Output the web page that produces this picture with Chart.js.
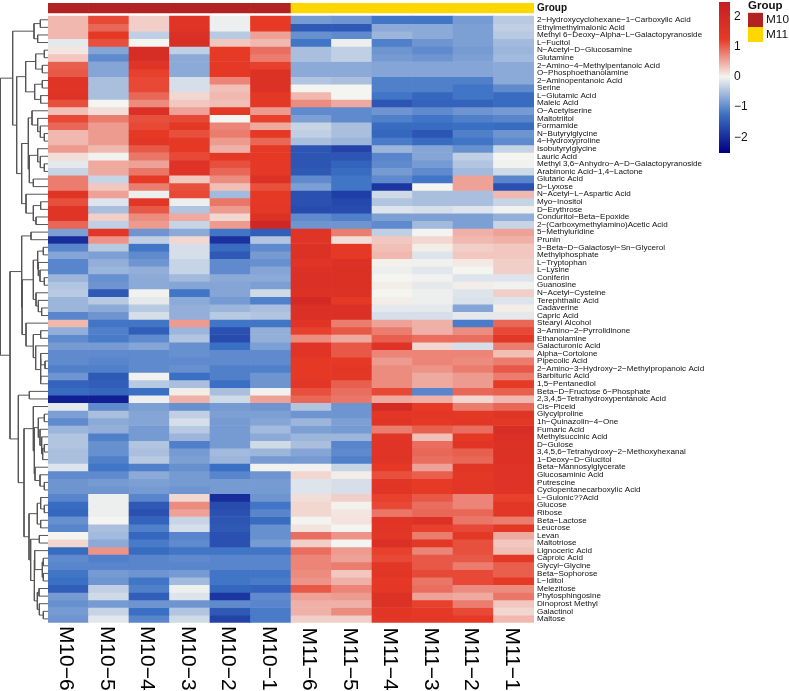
<!DOCTYPE html>
<html>
<head>
<meta charset="utf-8">
<title>Heatmap M10 vs M11</title>
<script src="https://cdn.jsdelivr.net/npm/chart.js@4"></script>
<style>
  html, body { margin: 0; padding: 0; background: #fff; overflow: hidden; }
  #wrap { position: relative; width: 789px; height: 691px; }
  canvas { position: absolute; display: block; }
</style>
</head>
<body>
<div id="wrap">
  <canvas id="dendro" width="48" height="691" style="left:0;top:0"></canvas>
  <canvas id="heat" width="670" height="691" style="left:48px;top:0"></canvas>
  <canvas id="scale" width="29" height="151" style="left:719px;top:2px"></canvas>
  <canvas id="legend" width="41" height="45" style="left:748px;top:0"></canvas>
</div>
<script>
const FONT = '"Liberation Sans", Arial, sans-serif';

// columnas
const samples = ['M10−6','M10−5','M10−4','M10−3','M10−2','M10−1','M11−6','M11−5','M11−4','M11−3','M11−2','M11−1'];
const sampleGroups = ['M10','M10','M10','M10','M10','M10','M11','M11','M11','M11','M11','M11'];
const groupNames = ['M10','M11'];
const groupColors = ['#b22222','#ffd700'];
const scaleTicks = [2, 1, 0, -1, -2];

const metabolites = [
  '2−Hydroxycyclohexane−1−Carboxylic Acid','Ethylmethylmalonic Acid','Methyl 6−Deoxy−Alpha−L−Galactopyranoside','L−Fucitol',
  'N−Acetyl−D−Glucosamine','Glutamine','2−Amino−4−Methylpentanoic Acid','O−Phosphoethanolamine','2−Aminopentanoic Acid','Serine',
  'L−Glutamic Acid','Maleic Acid','O−Acetylserine','Maltotriitol','Formamide','N−Butyrylglycine','4−Hydroxyproline','Isobutyrylglycine',
  'Lauric Acid','Methyl 3,6−Anhydro−A−D−Galactopyranoside','Arabinonic Acid−1,4−Lactone','Glutaric Acid','D−Lyxose',
  'N−Acetyl−L−Aspartic Acid','Myo−Inositol','D−Erythrose','Conduritol−Beta−Epoxide','2−(Carboxymethylamino)Acetic Acid',
  '5−Methyluridine','Prunin','3−Beta−D−Galactosyl−Sn−Glycerol','Methylphosphate','L−Tryptophan','L−Lysine','Coniferin','Guanosine',
  'N−Acetyl−Cysteine','Terephthalic Acid','Cadaverine','Capric Acid','Stearyl Alcohol','3−Amino−2−Pyrrolidinone','Ethanolamine',
  'Galacturonic Acid','Alpha−Cortolone','Pipecolic Acid','2−Amino−3−Hydroxy−2−Methylpropanoic Acid','Barbituric Acid','1,5−Pentanediol',
  'Beta−D−Fructose 6−Phosphate','2,3,4,5−Tetrahydroxypentanoic Acid','Cis−Piceid','Glycylproline','1h−Quinazolin−4−One','Fumaric Acid',
  'Methylsuccinic Acid','D−Gulose','3,4,5,6−Tetrahydroxy−2−Methoxyhexanal','1−Deoxy−D−Glucitol','Beta−Mannosylglycerate',
  'Glucosaminic Acid','Putrescine','Cyclopentanecarboxylic Acid','L−Gulonic??Acid','Glucose','Ribose','Beta−Lactose','Leucrose','Levan',
  'Maltotriose','Lignoceric Acid','Caproic Acid','Glycyl−Glycine','Beta−Sophorose','L−Iditol','Melezitose','Phytosphingosine',
  'Dinoprost Methyl','Galactinol','Maltose'
];

// z-scores, una fila por metabolito
const zScores = [
  [.4,1.15,.25,1.5,-.05,1.25,-.85,-.9,-1.2,-1.2,-.85,-.4],
  [.4,.95,.25,1.5,-.05,1.25,-1.5,-1.5,-.7,-.7,-.8,-.35],
  [.4,1.3,-.35,1.7,-.4,.55,-.95,-1,-.6,-.7,-.8,-.4],
  [-.1,1.1,0,1.75,.3,.4,-1.2,-.05,-1.1,-.9,-.8,-.55],
  [.1,-.75,1.85,-.35,1.25,.9,-.5,-.35,-.9,-1,-.85,-.6],
  [.3,-1,1.85,-.7,1.25,.8,-.5,-.35,-.85,-.9,-.8,-.55],
  [1,-.75,1.5,-.7,1.3,1.2,-.7,-.7,-.75,-.75,-.75,-.7],
  [1.05,-.75,1.2,-.7,1.3,1.6,-.7,-.7,-.75,-.75,-.75,-.7],
  [1.5,-.5,1.15,-.2,.75,1.6,-.45,-.5,-1.1,-1.1,-1.1,-.7],
  [1.5,-.5,1.15,-.2,.35,1.6,0,0,-1.1,-1.1,-1.2,-1],
  [1.55,-.5,.95,.2,.4,1.35,.4,0,-1.2,-1.35,-1.2,-1.3],
  [1.1,0,.7,.3,.35,1.35,.7,.5,-1.55,-1.4,-1.4,-1.3],
  [.35,.15,1.7,.55,1.35,.6,-1,-1,-.9,-1,-.9,-.85],
  [1.15,.8,1.1,1.15,0,1.2,-.8,-1,-1.1,-1.2,-1.1,-1.05],
  [.95,.6,1.15,1.35,.75,.5,-.3,-.5,-1.3,-1.3,-1.25,-1.3],
  [.4,.6,1.3,1.1,.8,1.3,-.35,-.5,-1.35,-1.55,-1.1,-.9],
  [.4,.6,1.4,1.3,.6,.95,-.5,-.6,-1.15,-1.3,-1.2,-1],
  [.6,.4,1.05,1.3,.45,1.3,-1.55,-1.75,-.6,-.75,-.95,-.3],
  [.15,-.02,.85,1.15,1.35,1.3,-1.55,-1.55,-1.05,-.75,-.35,0],
  [-.1,.5,.55,1.55,1.1,1.3,-1.55,-1.4,-1,-.85,-.45,-.02],
  [-.3,.5,.85,1.55,.95,1.3,-1.5,-1.3,-.85,-1,-.55,-.25],
  [.8,-.3,1.25,.3,.7,1.6,-1,-1.2,-1,-1.2,.55,-1.05],
  [.8,.3,.8,1.1,.35,1.1,-.8,-1.2,-1.9,0,.55,-1.6],
  [1.5,.55,-.05,1.15,-.55,1.3,-1.6,-1.8,-.25,-.5,-.5,.4],
  [1.1,-.15,1.4,-.05,.85,1.3,-1.6,-1.7,-.45,-.5,-.5,-.3],
  [1.5,-.5,1.05,-.45,.6,1.35,-1.65,-1.65,-.15,-.2,-.15,-.02],
  [1.5,.25,.7,.5,.2,1.6,-1,-1.1,-.8,-.8,-.8,-.65],
  [.95,-.35,.6,-.3,.6,2.1,-.9,-.9,-1,-.55,-.8,-.3],
  [-.8,1.4,-.9,-.7,-1.2,-1.45,1.5,.8,-.35,-.01,.45,.55],
  [-2,.65,-.35,.2,-1.95,-.45,1.5,.15,.3,.2,.4,.45],
  [-1.05,-.4,-1.2,-.2,-1.3,-1,1.6,1.3,.35,.05,.25,.3],
  [-.75,-.8,-1,-.2,-1.5,-.85,1.6,1.3,.4,-.15,.3,.3],
  [-1.05,-.65,-.9,-.3,-1,-.95,1.5,1.6,.02,-.03,.08,.25],
  [-1.05,-.6,-.65,-.3,-1,-.75,1.6,1.65,-.05,-.12,0,.25],
  [-.6,-.95,-.7,-.55,-.7,-.7,1.7,1.65,0,-.02,-.15,-.15],
  [-.45,-.9,-.7,-.75,-.75,-.8,1.7,1.65,.05,-.1,.05,-.02],
  [-.4,-1.5,-.02,-1.2,-.75,-.25,1.6,1.6,0,-.05,-.15,.25],
  [-.6,-.4,-.1,-.7,-.85,-1.1,1.95,1.3,.05,-.05,-.18,-.15],
  [-.6,-.7,-.4,-.65,-.6,-.5,1.7,1.7,-.1,-.1,-.75,.05],
  [-1.05,-.9,-.2,-.65,-.4,-.45,1.7,1.7,-.2,-.2,-.1,-.1],
  [.4,-1.2,-1.2,.6,-1.2,-1.2,1.5,.8,.55,.45,-1.15,.95],
  [-.65,-1.1,-1.45,-.6,-1.6,-.65,1.2,1.05,.8,.45,.7,1.15],
  [-1,-1.15,-1,-.45,-1.65,-.65,.7,.5,1,.9,.9,1.4],
  [-.85,-.85,-.75,-.95,-1.25,-.8,1.5,1.05,1.55,.2,-.2,.8],
  [-1,-1,-1,-.95,-1,-1,1.5,1.05,.75,.75,.75,.35],
  [-1,-1.05,-1,-1,-1,-1,1.3,1.3,.6,.75,.7,.8],
  [-1.1,-1.1,-1,-.95,-1.1,-1.1,1.3,1.4,.7,.65,.8,1.05],
  [-.9,-1.5,-.02,-1.25,-1.1,-.9,1.3,1.35,.7,.5,.6,.8],
  [-1.4,-1.45,-.4,-.5,-1.25,-.9,1.4,1,.7,.5,.6,1.25],
  [-1.3,-1.35,-1.25,.05,-.5,-.02,1.1,.9,1.15,-1.05,.95,1],
  [-2.15,-2.15,-.04,.45,-.25,.55,.95,.85,.5,.45,.2,.4],
  [-.1,-1,-.8,-.95,-.85,-.9,-.45,-.9,1.9,1.25,.8,.95],
  [-.8,-.5,-.75,-.35,-.8,-.8,-.9,-.9,1.4,1.4,1.35,1.5],
  [-1,-.7,-.75,-.2,-.85,-.75,-.6,-.8,1.5,1.3,1.4,1.35],
  [-.6,-.65,-.85,-.4,-.85,-.55,-.8,-.85,.8,1,.9,1.8],
  [-.45,-1.1,-.85,-.6,-.85,-.7,-.6,-.6,1.45,.35,1.3,1.7],
  [-.45,-.95,-.45,-1.1,-.85,-.25,-.5,-1.05,1.5,.9,1.5,1.6],
  [-.5,-.95,-.5,-.85,-.55,-.6,-.75,-1,1.5,.95,1,1.6],
  [-.5,-1.1,-.4,-.8,-.6,-.85,-.85,-1.1,1.5,.9,.95,1.6],
  [-.15,-1.2,-1.1,-.95,-1.25,-.02,-.02,-.3,1.3,.55,1.45,1.55],
  [-1,-1,-.7,-.85,-1.05,-.9,.2,.05,1.1,1,1.35,1.55],
  [-.9,-.85,-.8,-.85,-.85,-.85,-.15,-.2,1.45,1.25,1.4,1.55],
  [-.9,-.9,-.85,-.9,-.85,-.85,-.15,-.2,1.5,1.25,1.4,1.55],
  [-1.05,-.05,-1.05,.2,-2,-.9,.15,.25,1.2,1.05,.75,1.2],
  [-1.3,-.05,-1.5,.7,-1.65,-1.2,.2,.02,1.15,.9,.75,1.4],
  [-1.35,-.05,-1.6,.55,-1.6,-1.05,.2,.1,.85,.95,.95,1.4],
  [-.95,0,-1.4,-.3,-1.55,-1.3,-.01,.12,1.5,1.6,.85,.8],
  [-1.05,-.5,-1.1,-.2,-1.5,-.95,.12,0,1.45,1.2,1.15,1.35],
  [0,-.55,-1.35,-1.05,-1.6,-.95,.9,.65,1.4,.8,1.35,.5],
  [.2,-.7,-1.15,-1,-1.6,-.85,.25,0,1.7,1.35,1.1,.3],
  [-1.3,.65,-1.3,-1.2,-1.2,-1.2,.9,.6,1.2,.75,1.1,.35],
  [-1,-1.1,-1.05,-1,-1.05,-1.05,.75,.55,1.15,1.05,1.05,1.35],
  [-1.05,-1.05,-1.05,-1.05,-1.05,-1.05,.75,.8,1.4,1.05,.8,1],
  [-1.2,-.85,-.9,-.85,-1.2,-1.2,.7,.3,1.45,1.15,1.15,1],
  [-1.25,-.9,-1.2,-.55,-1.2,-1.15,.65,.45,1.3,.85,1.15,1.3],
  [-1.45,-.35,-1.1,-.05,-1.35,-1.4,1.05,.75,1.35,.9,.7,.7],
  [-.85,-.25,-1.45,-.15,-1.9,-1,.55,.6,1.6,.55,.5,.85],
  [-.95,-.85,-.9,-.9,-1,-1.05,.45,.45,1.6,1.2,.8,.3],
  [-.85,-.3,-1.25,-.45,-1.5,-1.15,.45,.7,1.45,1.3,1.15,.2],
  [-.9,-.12,-1.05,-.25,-1.75,-1.15,.25,.25,1.4,1.35,1.3,.4]
];

// arbol de filas: [altura, hijo, hijo], una hoja es el numero de fila
const clusterTop = [106,
  [42, [23,0,1], [31,2,3]],
  [94,
    [67, [37,[11,4,5],[17,6,7]], [40,[17,8,9],[22,10,11]]],
    [79,
      [59, [48,12,[31,13,[23,14,[11,15,16]]]], [56,[31,17,[23,18,[11,19,20]]],[44,21,22]]],
      [66,23,[44,[22,24,25],[36,26,27]]]
    ]
  ]
];
const clusterBlueA = [79, [51,28,29], [77.5,
  [44, [31,[14,30,31],[29,32,[24,33,[11,34,35]]]], [36,36,[29,37,[19,38,39]]]],
  [66,40,[44,[22,41,42],[37,43,[22,[22,44,[9,45,46]],[22,47,48]]]]]
]];
const clusterBlueB = [89, [56,49,50], [72,
  [44,51,[41,[29,[11,52,53],[24,54,[19,55,[16,[11,56,57],58]]]],[39,59,[24,60,[11,61,62]]]]],
  [57,
    [32,[22,63,[11,64,65]],[22,66,67]],
    [52,[26,68,69],[41,[40,70,[17,[14,71,72],[14,73,74]]],[32,[27,75,76],[26,77,[14,78,79]]]]]
  ]
]];
const rowTree = [143, clusterTop, [114, clusterBlueA, clusterBlueB]];

// escala de color
const colorStops = [
  [-2.5, [0, 0, 128]], [-1.25, [58, 112, 196]], [0, [244, 244, 240]], [1.25, [230, 58, 38]], [2.5, [196, 30, 36]]
];

function zColor(v) {
  let i = 0;
  while (i < colorStops.length - 2 && v > colorStops[i + 1][0]) i++;
  const [v0, c0] = colorStops[i];
  const [v1, c1] = colorStops[i + 1];
  const t = Math.min(1, Math.max(0, (v - v0) / (v1 - v0)));
  const c = c0.map((x, k) => Math.round(x + (c1[k] - x) * t));
  return `rgb(${c[0]},${c[1]},${c[2]})`;
}

// las etiquetas no deben empujar el area del grafico
function noMargins(s) {
  s.paddingLeft = 0;
  s.paddingRight = 0;
  s.paddingTop = 0;
  s.paddingBottom = 0;
}

// mismo eje vertical en dendrograma y heatmap
const ROW_MIN = -1.714;
const ROW_MAX = 80;
const AXIS_BOTTOM = 68.33;

// --- dendrograma ---
const brackets = [];
function walkTree(node) {
  if (typeof node === 'number') return { h: 0, y: node + 0.5 };
  const a = walkTree(node[1]);
  const b = walkTree(node[2]);
  brackets.push([{ x: a.h, y: a.y }, { x: node[0], y: a.y }, { x: node[0], y: b.y }, { x: b.h, y: b.y }]);
  return { h: node[0], y: (a.y + b.y) / 2 };
}
walkTree(rowTree);

new Chart(document.getElementById('dendro'), {
  type: 'scatter',
  data: {
    datasets: brackets.map(pts => ({
      data: pts, showLine: true, pointRadius: 0, borderColor: '#555', borderWidth: 1, clip: false
    }))
  },
  options: {
    responsive: false,
    animation: false,
    layout: { padding: { top: 3, bottom: AXIS_BOTTOM, left: 0, right: 0 } },
    plugins: { legend: { display: false }, tooltip: { enabled: false } },
    scales: {
      x: { display: false, reverse: true, min: 0, max: 144 },
      y: { display: false, reverse: true, min: ROW_MIN, max: ROW_MAX }
    }
  }
});

// --- heatmap, barras flotantes por fila ---
const heatDatasets = zScores.map((row, r) => ({
  data: row.map(() => [r, r + 1]),
  backgroundColor: row.map(zColor)
}));
heatDatasets.push({
  data: samples.map(() => [-1.71, -0.4]),
  backgroundColor: sampleGroups.map(g => groupColors[groupNames.indexOf(g)])
});

new Chart(document.getElementById('heat'), {
  type: 'bar',
  data: { labels: samples, datasets: heatDatasets },
  options: {
    responsive: false,
    animation: false,
    layout: { padding: { top: 3, bottom: 0, left: 0, right: 0 } },
    datasets: { bar: { grouped: false, barPercentage: 1, categoryPercentage: 1, borderWidth: 0 } },
    plugins: { legend: { display: false }, tooltip: { enabled: false } },
    scales: {
      x: {
        grid: { display: false, drawTicks: false },
        border: { display: false },
        afterFit: s => { s.height = AXIS_BOTTOM; noMargins(s); },
        ticks: {
          autoSkip: false,
          minRotation: -90,
          maxRotation: -90,
          padding: 68,
          labelOffset: -2,
          color: '#000',
          font: { family: FONT, size: 21 }
        }
      },
      y: {
        position: 'right',
        reverse: true,
        min: ROW_MIN,
        max: ROW_MAX,
        grid: { display: false, drawTicks: false },
        border: { display: false },
        afterFit: s => { s.width = 184; noMargins(s); },
        afterBuildTicks: s => {
          s.ticks = [{ value: -1.05 }].concat(metabolites.map((m, i) => ({ value: i + 0.5 })));
        },
        ticks: {
          autoSkip: false,
          padding: 3,
          color: '#111',
          callback: v => (v < 0 ? 'Group' : metabolites[Math.floor(v)]),
          font: c => (c.tick && c.tick.value < 0
            ? { family: FONT, size: 10, weight: 'bold' }
            : { family: FONT, size: 8.1 })
        }
      }
    }
  }
});

// --- barra de color ---
new Chart(document.getElementById('scale'), {
  type: 'bar',
  data: {
    labels: ['z'],
    datasets: [{
      data: [[-2.52, 2.48]],
      backgroundColor: c => {
        const { chart } = c;
        if (!chart.chartArea) return '#fff';
        const y = chart.scales.y;
        const top = y.getPixelForValue(2.48);
        const bottom = y.getPixelForValue(-2.52);
        const g = chart.ctx.createLinearGradient(0, bottom, 0, top);
        colorStops.forEach(s => {
          const off = (s[0] + 2.52) / 5;
          g.addColorStop(Math.min(1, Math.max(0, off)), zColor(s[0]));
        });
        return g;
      }
    }]
  },
  options: {
    responsive: false,
    animation: false,
    datasets: { bar: { barPercentage: 1, categoryPercentage: 1, borderWidth: 0 } },
    plugins: { legend: { display: false }, tooltip: { enabled: false } },
    scales: {
      x: { display: false },
      y: {
        position: 'right',
        min: -2.52,
        max: 2.48,
        grid: { display: false, drawTicks: false },
        border: { display: false },
        afterFit: s => { s.width = 18; noMargins(s); },
        afterBuildTicks: s => { s.ticks = scaleTicks.map(v => ({ value: v })); },
        ticks: {
          padding: 4,
          color: '#111',
          font: { family: FONT, size: 12 },
          callback: v => (v < 0 ? '−' + Math.abs(v) : String(v))
        }
      }
    }
  }
});

// --- leyenda de grupos ---
new Chart(document.getElementById('legend'), {
  type: 'bar',
  data: {
    labels: groupNames,
    datasets: [{ data: groupNames.map(() => 1), backgroundColor: groupColors }]
  },
  options: {
    responsive: false,
    animation: false,
    indexAxis: 'y',
    layout: { padding: { bottom: 3 } },
    datasets: { bar: { barPercentage: 1, categoryPercentage: 1, borderWidth: 0 } },
    plugins: {
      legend: { display: false },
      tooltip: { enabled: false },
      title: {
        display: true,
        text: 'Group',
        align: 'start',
        color: '#111',
        padding: { top: 0, bottom: 1.2 },
        font: { family: FONT, size: 11.5, weight: 'bold', lineHeight: 1 }
      }
    },
    scales: {
      x: { display: false, min: 0, max: 1 },
      y: {
        position: 'right',
        grid: { display: false, drawTicks: false },
        border: { display: false },
        afterFit: s => { s.width = 26; noMargins(s); },
        ticks: { autoSkip: false, padding: 3, color: '#111', font: { family: FONT, size: 11.8 } }
      }
    }
  }
});
</script>
</body>
</html>
